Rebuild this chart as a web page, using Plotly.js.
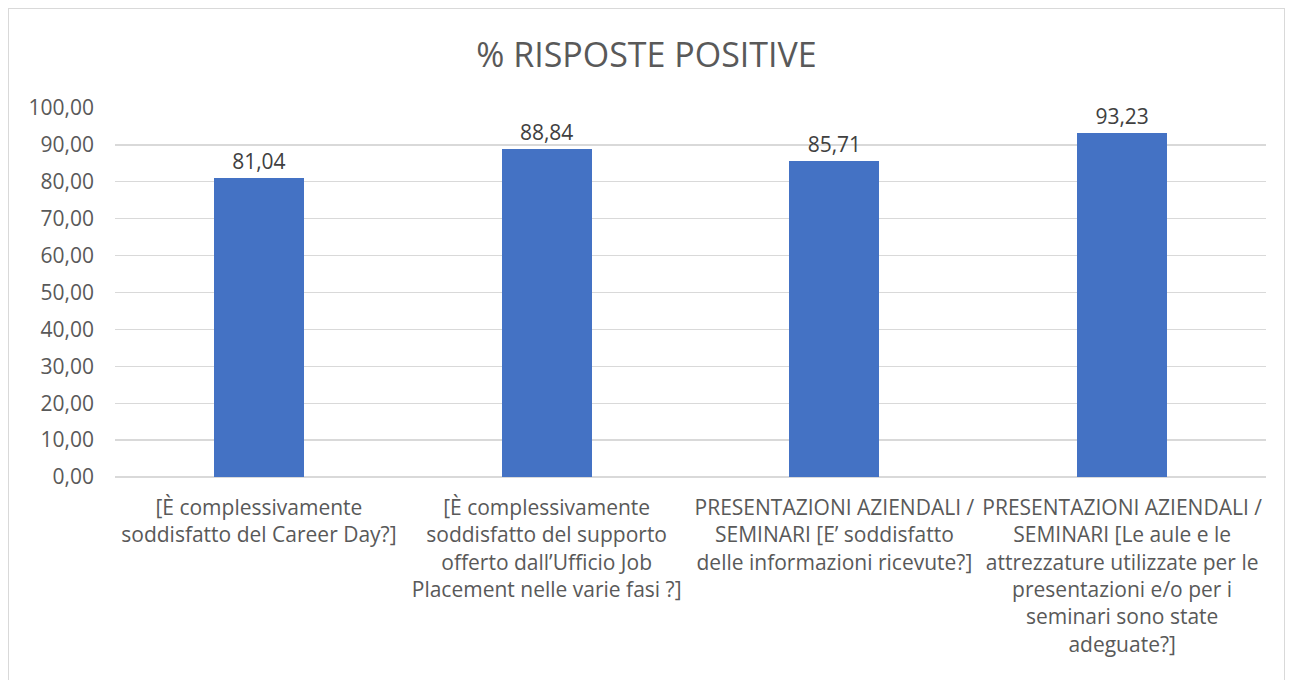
<!DOCTYPE html>
<html>
<head>
<meta charset="utf-8">
<script src="https://cdn.plot.ly/plotly-3.0.1.min.js"></script>
<style>
  html, body { margin: 0; padding: 0; background: #ffffff; width: 1295px; height: 680px; overflow: hidden; }
  #frame { position: absolute; left: 8px; top: 8px; width: 1277px; height: 700px; border: 1px solid #d9d9d9; box-sizing: border-box; }
  #chart { position: absolute; left: 0; top: 0; width: 1275px; height: 672px; }
</style>
</head>
<body>
<div id="frame"><div id="chart"></div></div>
<script>
const categories = [
  "[È complessivamente<br>soddisfatto del Career Day?]",
  "[È complessivamente<br>soddisfatto del supporto<br>offerto dall’Ufficio Job<br>Placement nelle varie fasi ?]",
  "PRESENTAZIONI AZIENDALI /<br>SEMINARI [E’ soddisfatto<br>delle informazioni ricevute?]",
  "PRESENTAZIONI AZIENDALI /<br>SEMINARI [Le aule e le<br>attrezzature utilizzate per le<br>presentazioni e/o per i<br>seminari sono state<br>adeguate?]"
];
const values = [81.04, 88.84, 85.71, 93.23];
const chartTitle = "% RISPOSTE POSITIVE";

const FONT = "'Open Sans', sans-serif";
const TXT = "#595959";

const trace = {
  type: "bar",
  x: categories,
  y: values,
  width: 0.3125,
  marker: { color: "#4472C4" },
  text: values,
  texttemplate: "%{y:.2f}",
  textposition: "outside",
  cliponaxis: false,
  textfont: { family: FONT, size: 21, color: "#404040" },
  hoverinfo: "skip"
};

const layout = {
  width: 1275,
  height: 672,
  margin: { l: 106, r: 18, t: 99, b: 204 },
  paper_bgcolor: "rgba(0,0,0,0)",
  plot_bgcolor: "rgba(0,0,0,0)",
  separators: ",.",
  showlegend: false,
  bargap: 0,
  title: {
    text: chartTitle,
    font: { family: FONT, size: 34, color: TXT },
    x: 0.5, xanchor: "center",
    yref: "container", y: 1 - 46 / 672, yanchor: "middle"
  },
  xaxis: {
    type: "category",
    showgrid: false,
    showline: false,
    zeroline: false,
    ticks: "",
    tickangle: 0,
    tickfont: { family: FONT, size: 21, color: TXT },
    ticklabelstandoff: 16
  },
  yaxis: {
    range: [0, 100],
    dtick: 10,
    tick0: 0,
    tickformat: ".2f",
    showgrid: true,
    gridcolor: "#d9d9d9",
    gridwidth: 1.3,
    zeroline: true,
    zerolinecolor: "#d9d9d9",
    zerolinewidth: 1.3,
    showline: false,
    ticks: "",
    tickfont: { family: FONT, size: 21, color: TXT },
    ticklabelstandoff: 20
  }
};

Plotly.newPlot("chart", [trace], layout, { displayModeBar: false, staticPlot: true });
</script>
</body>
</html>
